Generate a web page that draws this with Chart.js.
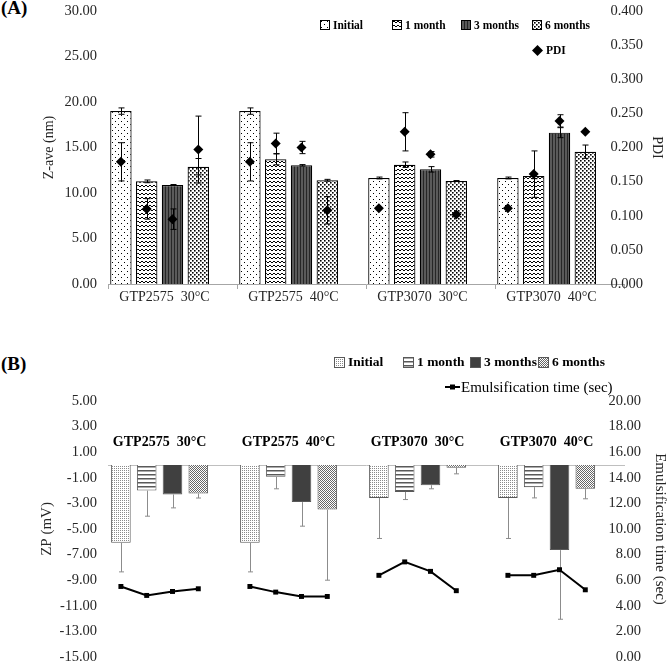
<!DOCTYPE html>
<html><head><meta charset="utf-8">
<script src="https://cdn.jsdelivr.net/npm/chart.js@4.4.1/dist/chart.umd.min.js"></script>
<style>
html,body{margin:0;padding:0;background:#fff;overflow:hidden;width:669px;height:663px;}
.wrap{position:absolute;left:0;width:669px;}
.lbl{position:absolute;font-family:"Liberation Serif","Times New Roman",serif;font-weight:bold;color:#000;white-space:nowrap;line-height:1;}
.leg{position:absolute;display:flex;align-items:center;white-space:nowrap;color:#000;font-family:"Liberation Serif","Times New Roman",serif;}
.leg canvas{display:block;}
</style></head><body>
<div class="lbl" style="left:1px;top:-2px;font-size:19px">(A)</div>
<div class="lbl" style="left:1px;top:354px;font-size:19px">(B)</div>
<div class="wrap" style="top:0;height:310px"><canvas id="ca"></canvas></div>
<div class="wrap" style="top:330px;height:336px"><canvas id="cb"></canvas></div>
<script>
// ---------- data ----------
const categories = ["GTP2575  30°C", "GTP2575  40°C", "GTP3070  30°C", "GTP3070  40°C"];
const seriesNames = ["Initial", "1 month", "3 months", "6 months"];

// Panel A: Z-average (nm)
const zaveInitial = [19.00, 19.00, 11.65, 11.65];
const zave1Month  = [11.28, 13.70, 13.11, 11.87];
const zave3Months = [10.88, 13.04, 12.60, 16.63];
const zave6Months = [12.89, 11.40, 11.32, 14.54];
const zaveInitialSD = [0.35, 0.35, 0.10, 0.10];
const zave1MonthSD  = [0.15, 0.60, 0.30, 0.30];
const zave3MonthsSD = [0.05, 0.08, 0.30, 0.55];
const zave6MonthsSD = [0.90, 0.10, 0.05, 0.73];

// Panel A: PDI
const pdiInitial = [0.179, 0.179, 0.111, 0.111];
const pdi1Month  = [0.110, 0.206, 0.223, 0.161];
const pdi3Months = [0.095, 0.200, 0.190, 0.239];
const pdi6Months = [0.197, 0.108, 0.102, 0.223];
const pdiInitialSD = [0.028, 0.028, 0, 0];
const pdi1MonthSD  = [0.015, 0.015, 0.028, 0.034];
const pdi3MonthsSD = [0.015, 0.009, 0.004, 0.009];
const pdi6MonthsSD = [0.049, 0.020, 0.003, 0];

// Panel B: zeta potential (mV)
const zpInitial = [-6.08, -6.08, -2.57, -2.57];
const zp1Month  = [-2.00, -0.92, -2.10, -1.73];
const zp3Months = [-2.30, -2.90, -1.58, -6.65];
const zp6Months = [-2.23, -3.48, -0.22, -1.86];
const zpInitialSD = [2.27, 2.27, 3.17, 3.17];
const zp1MonthSD  = [2.00, 0.94, 0.60, 0.84];
const zp3MonthsSD = [1.05, 1.88, 0.28, 5.40];
const zp6MonthsSD = [0.35, 5.52, 0.47, 0.78];

// Panel B: emulsification time (sec)
const emulInitial = [5.51, 5.51, 6.38, 6.38];
const emul1Month  = [4.81, 5.07, 7.43, 6.38];
const emul3Months = [5.12, 4.73, 6.69, 6.82];
const emul6Months = [5.33, 4.73, 5.18, 5.25];

// tick labels
const zaveTicks = [0, 5, 10, 15, 20, 25, 30];
const pdiTicks = [0, 0.05, 0.10, 0.15, 0.20, 0.25, 0.30, 0.35, 0.40];
const zpTicks = [-15, -13, -11, -9, -7, -5, -3, -1, 1, 3, 5];
const emulTicks = [0, 2, 4, 6, 8, 10, 12, 14, 16, 18, 20];

// ---------- helpers ----------
const FONT = '"Liberation Serif", "Times New Roman", serif';
const TXT = '#262626';
const zaveSeries = [zaveInitial, zave1Month, zave3Months, zave6Months];
const zaveSD = [zaveInitialSD, zave1MonthSD, zave3MonthsSD, zave6MonthsSD];
const pdiSeries = [pdiInitial, pdi1Month, pdi3Months, pdi6Months];
const pdiSD = [pdiInitialSD, pdi1MonthSD, pdi3MonthsSD, pdi6MonthsSD];
const zpSeries = [zpInitial, zp1Month, zp3Months, zp6Months];
const zpSD = [zpInitialSD, zp1MonthSD, zp3MonthsSD, zp6MonthsSD];
const emulSeries = [emulInitial, emul1Month, emul3Months, emul6Months];

// each category is split into one slot per series plus an empty slot
const SLOTS = seriesNames.length + 1;
const slotLabels = [];
categories.forEach(c => { for (let s = 0; s < SLOTS; s++) slotLabels.push(c + '|' + s); });
const slotIndex = (g, s) => g * SLOTS + s;
function toSlots(arrs) {           // all series, one line per category
  const out = new Array(slotLabels.length).fill(null);
  categories.forEach((c, g) => arrs.forEach((a, s) => { out[slotIndex(g, s)] = a[g]; }));
  return out;
}
function seriesSlots(arr, s) {     // one series in its own slot
  const out = new Array(slotLabels.length).fill(null);
  categories.forEach((c, g) => { out[slotIndex(g, s)] = arr[g]; });
  return out;
}

function tile(w, h, draw) {
  const c = document.createElement('canvas'); c.width = w; c.height = h;
  const g = c.getContext('2d'); g.fillStyle = '#fff'; g.fillRect(0, 0, w, h); draw(g); return c;
}
const tilesA = [
  tile(6, 6, g => { g.fillStyle = '#000'; g.fillRect(1, 1, 1, 1); g.fillRect(4, 4, 1, 1); }),
  tile(4, 4, g => { g.strokeStyle = '#000'; g.lineWidth = 1; g.beginPath(); g.moveTo(-2, 1); g.lineTo(0, 3); g.lineTo(2, 1); g.lineTo(4, 3); g.lineTo(6, 1); g.stroke(); }),
  tile(3, 1, g => { g.fillStyle = '#5a5a5a'; g.fillRect(0, 0, 3, 1); g.fillStyle = '#262626'; g.fillRect(0, 0, 1, 1); }),
  tile(4, 4, g => { g.fillStyle = '#000'; g.fillRect(0, 0, 1.6, 1.6); g.fillRect(2, 2, 1.6, 1.6); })
];
const tilesB = [
  tile(2, 2, g => { g.fillStyle = '#8a8a8a'; g.fillRect(0, 0, 1, 1); }),
  tile(4, 4, g => { g.fillStyle = '#595959'; g.fillRect(0, 0, 4, 1.5); }),
  null,
  tile(2, 2, g => { g.fillStyle = '#666'; g.fillRect(0, 0, 1, 1); g.fillRect(1, 1, 1, 1); })
];
const solidB3 = '#404040';

const ctxA = document.getElementById('ca').getContext('2d');
const ctxB = document.getElementById('cb').getContext('2d');
const patA = tilesA.map(t => ctxA.createPattern(t, 'repeat'));
const patB = tilesB.map(t => t ? ctxB.createPattern(t, 'repeat') : solidB3);

// error bar plugin (uses the library's scales and element positions)
const errorBars = {
  id: 'errorBars',
  afterDatasetDraw(chart, args) {
    const ds = chart.data.datasets[args.index];
    if (!ds.errors) return;
    const meta = args.meta;
    const ys = chart.scales[meta.yAxisID];
    const ctx = chart.ctx;
    ctx.save();
    ctx.strokeStyle = ds.errorColor; ctx.lineWidth = ds.errorWidth;
    meta.data.forEach((el, i) => {
      const v = ds.data[i], e = ds.errors[i];
      if (v == null || !e) return;
      const x = Math.round(el.x) + 0.5;
      const yLo = ys.getPixelForValue(v - e);
      const yHi = ds.errorDir === 'down' ? ys.getPixelForValue(v) : ys.getPixelForValue(v + e);
      const c = ds.errorCap;
      ctx.beginPath();
      ctx.moveTo(x, yHi); ctx.lineTo(x, yLo);
      ctx.moveTo(x - c, yLo); ctx.lineTo(x + c, yLo);
      if (ds.errorDir !== 'down') { ctx.moveTo(x - c, yHi); ctx.lineTo(x + c, yHi); }
      ctx.stroke();
    });
    ctx.restore();
  }
};

// group labels for panel B (above the zero line, centred on each bar group)
const groupLabels = {
  id: 'groupLabels',
  afterDatasetsDraw(chart) {
    const ctx = chart.ctx;
    const y0 = chart.scales.y.getPixelForValue(0);
    ctx.save();
    ctx.font = 'bold 14px ' + FONT; ctx.fillStyle = '#000';
    ctx.textAlign = 'center'; ctx.textBaseline = 'middle';
    categories.forEach((c, g) => {
      const xs = seriesNames.map((n, s) => chart.getDatasetMeta(s).data[slotIndex(g, s)].x);
      ctx.fillText(c, (Math.min(...xs) + Math.max(...xs)) / 2, y0 - 22.5);
    });
    ctx.restore();
  }
};

function fixedTicks(arr) { return s => { s.ticks = arr.map(v => ({ value: v })); }; }
function leftFit(s) { s.width = 108; s.paddingTop = 0; s.paddingBottom = 0; }
function rightFit(s) { s.width = 45; s.paddingTop = 0; s.paddingBottom = 0; }

// ---------- Panel A ----------
new Chart(ctxA, {
  type: 'bar',
  data: {
    labels: categories,
    datasets: [
      ...seriesNames.map((n, s) => ({
        label: n, data: seriesSlots(zaveSeries[s], s), errors: seriesSlots(zaveSD[s], s),
        errorColor: '#000', errorWidth: 1, errorCap: 3,
        backgroundColor: patA[s], borderColor: '#000', borderWidth: 1.2, grouped: false,
        barPercentage: 0.83, categoryPercentage: 1, xAxisID: 'x2', yAxisID: 'y', order: 2
      })),
      { type: 'line', label: 'PDI', data: toSlots(pdiSeries), errors: toSlots(pdiSD),
        errorColor: '#000', errorWidth: 1, errorCap: 3,
        xAxisID: 'x2', yAxisID: 'y1', showLine: false, pointStyle: 'rectRot', pointRadius: 5,
        pointBackgroundColor: '#000', pointBorderColor: '#000', pointBorderWidth: 0, order: 0 }
    ]
  },
  options: {
    responsive: true, maintainAspectRatio: false, animation: false, events: [],
    layout: { padding: { top: 11, left: 0, right: 0, bottom: 0 } },
    plugins: { legend: { display: false }, tooltip: { enabled: false } },
    scales: {
      x: { type: 'category', offset: true,
        grid: { display: true, drawOnChartArea: false, drawTicks: true, tickLength: 5, color: '#a6a6a6', offset: true },
        border: { display: true, color: '#a6a6a6' },
        ticks: { font: { family: FONT, size: 14 }, color: TXT, padding: 0, labelOffset: -8, maxRotation: 0, autoSkip: false },
        afterFit: s => { s.height = 26; } },
      x2: { type: 'category', labels: slotLabels, offset: true, display: false },
      y: { position: 'left', min: zaveTicks[0], max: zaveTicks[zaveTicks.length - 1], afterBuildTicks: fixedTicks(zaveTicks),
        ticks: { callback: v => v.toFixed(2), font: { family: FONT, size: 14.5 }, color: TXT, padding: 11 },
        grid: { display: false, drawTicks: false }, border: { display: false },
        title: { display: true, text: 'Z-ave (nm)', font: { family: FONT, size: 14 }, color: TXT, padding: { top: 40.6, bottom: 0 } },
        afterFit: leftFit },
      y1: { position: 'right', min: pdiTicks[0], max: pdiTicks[pdiTicks.length - 1], afterBuildTicks: fixedTicks(pdiTicks),
        ticks: { callback: v => v.toFixed(3), font: { family: FONT, size: 14.5 }, color: TXT, mirror: true, crossAlign: 'near', padding: 19 },
        grid: { display: false, drawTicks: false }, border: { display: false },
        title: { display: true, text: 'PDI', font: { family: FONT, size: 14 }, color: TXT, padding: { top: 3.6, bottom: 0 } },
        afterFit: rightFit }
    }
  },
  plugins: [errorBars]
});

// ---------- Panel B ----------
new Chart(ctxB, {
  type: 'bar',
  data: {
    labels: categories,
    datasets: [
      ...seriesNames.map((n, s) => ({
        label: n, data: seriesSlots(zpSeries[s], s), errors: seriesSlots(zpSD[s], s),
        errorDir: 'down', errorColor: '#8c8c8c', errorWidth: 1, errorCap: 2.5,
        backgroundColor: patB[s], borderColor: '#595959', borderWidth: 1, grouped: false,
        barPercentage: 0.76, categoryPercentage: 1, xAxisID: 'x2', yAxisID: 'y', order: 2
      })),
      { type: 'line', label: 'Emulsification time (sec)', data: toSlots(emulSeries),
        xAxisID: 'x2', yAxisID: 'y1', borderColor: '#000', borderWidth: 2, spanGaps: false, tension: 0,
        pointStyle: 'rect', pointRadius: 3.5, pointBackgroundColor: '#000', pointBorderColor: '#000', pointBorderWidth: 0, order: 0 }
    ]
  },
  options: {
    responsive: true, maintainAspectRatio: false, animation: false, events: [],
    layout: { padding: { top: 71, left: 0, right: 0, bottom: 9 } },
    plugins: { legend: { display: false }, tooltip: { enabled: false } },
    scales: {
      x: { type: 'category', position: { y: 0 }, offset: true,
        grid: { display: false, drawTicks: false }, ticks: { display: false },
        border: { display: true, color: '#bfbfbf', width: 1 } },
      x2: { type: 'category', labels: slotLabels, offset: true, display: false },
      y: { position: 'left', min: zpTicks[0], max: zpTicks[zpTicks.length - 1], afterBuildTicks: fixedTicks(zpTicks),
        ticks: { callback: v => v.toFixed(2), font: { family: FONT, size: 14.5 }, color: TXT, padding: 11 },
        grid: { display: false, drawTicks: false }, border: { display: false },
        title: { display: true, text: 'ZP (mV)', font: { family: FONT, size: 15 }, color: TXT, padding: { top: 38.5, bottom: 0 } },
        afterFit: leftFit },
      y1: { position: 'right', min: emulTicks[0], max: emulTicks[emulTicks.length - 1], afterBuildTicks: fixedTicks(emulTicks),
        ticks: { callback: v => v.toFixed(2), font: { family: FONT, size: 14.5 }, color: TXT, mirror: true, crossAlign: 'near', padding: 17 },
        grid: { display: false, drawTicks: false }, border: { display: false },
        title: { display: true, text: 'Emulsification time (sec)', font: { family: FONT, size: 15 }, color: TXT, padding: { top: 0, bottom: 0 } },
        afterFit: rightFit }
    }
  },
  plugins: [errorBars, groupLabels]
});

// ---------- HTML legends ----------
function swatch(w, h, draw) {
  const c = document.createElement('canvas'); c.width = w; c.height = h;
  c.style.width = w + 'px'; c.style.height = h + 'px';
  draw(c.getContext('2d')); return c;
}
function boxSwatch(size, tileCanvas, solid, border) {
  return swatch(size, size, g => {
    g.fillStyle = tileCanvas ? g.createPattern(tileCanvas, 'repeat') : solid;
    g.fillRect(0, 0, size, size);
    g.strokeStyle = border; g.lineWidth = 1; g.strokeRect(0.5, 0.5, size - 1, size - 1);
  });
}
function legendItem(left, cy, sw, text, font, gap) {
  const d = document.createElement('div'); d.className = 'leg';
  d.style.left = left + 'px'; d.style.top = (cy - 10) + 'px'; d.style.height = '20px';
  d.appendChild(sw);
  const s = document.createElement('span'); s.textContent = text; s.style.font = font; s.style.marginLeft = gap + 'px';
  d.appendChild(s); document.body.appendChild(d);
}
const legAX = [320, 392, 461, 532];
seriesNames.forEach((n, s) => legendItem(legAX[s], 25, boxSwatch(10, tilesA[s], null, '#000'), n, 'bold 11.5px ' + FONT, 3));
legendItem(532, 50, swatch(11, 11, g => { g.fillStyle = '#000'; g.beginPath(); g.moveTo(5.5, 0); g.lineTo(11, 5.5); g.lineTo(5.5, 11); g.lineTo(0, 5.5); g.closePath(); g.fill(); }), 'PDI', 'bold 11.5px ' + FONT, 3);

const legBX = [334, 403, 470, 538];
seriesNames.forEach((n, s) => legendItem(legBX[s], 362, boxSwatch(11, tilesB[s], solidB3, '#595959'), n, 'bold 13.5px ' + FONT, 3));
legendItem(445, 387, swatch(15, 10, g => { g.strokeStyle = '#000'; g.lineWidth = 2; g.beginPath(); g.moveTo(0, 5); g.lineTo(15, 5); g.stroke(); g.fillStyle = '#000'; g.fillRect(5, 2.5, 5, 5); }), 'Emulsification time (sec)', '15px ' + FONT, 1);
</script>
</body></html>
